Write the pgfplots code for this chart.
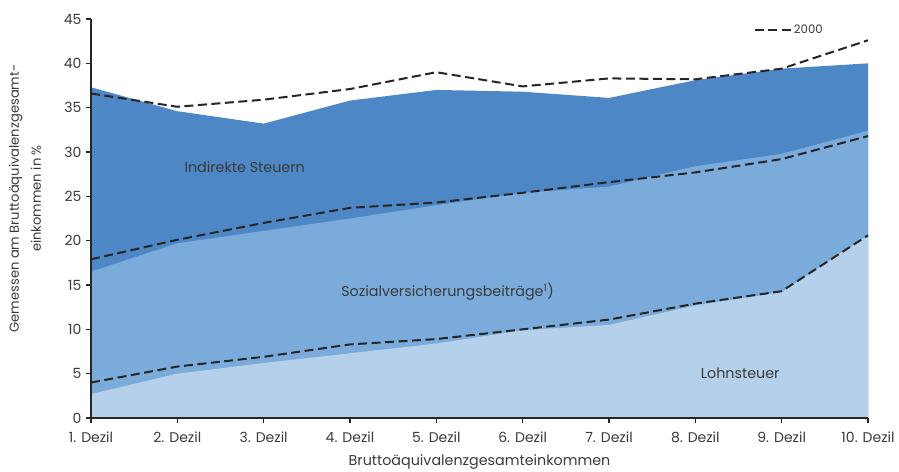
\documentclass[border=0pt]{standalone}
\usepackage{fontspec}
\setmainfont{Poppins}
\usepackage{pgfplots}
\pgfplotsset{compat=1.18}

\definecolor{lohn}{HTML}{B5D0EB}
\definecolor{sozial}{HTML}{7AABDB}
\definecolor{indir}{HTML}{4D87C6}
\definecolor{txt}{HTML}{3A3A3A}

\begin{document}
\begin{tikzpicture}
\begin{axis}[
    scale only axis,
    width=777pt, height=399pt,
    xmin=1, xmax=10, ymin=0, ymax=45,
    axis lines*=left,
    axis line style={line width=1.8pt, color=black!85},
    axis on top,
    xtick={1,...,10},
    xticklabels={1. Dezil,2. Dezil,3. Dezil,4. Dezil,5. Dezil,6. Dezil,7. Dezil,8. Dezil,9. Dezil,10. Dezil},
    ytick={0,5,...,45},
    tick align=outside,
    major tick length=5pt,
    tick style={line width=1.6pt, black!85},
    ticklabel style={font=\fontsize{14}{16}\selectfont, text=txt},
    /pgf/number format/assume math mode=true,
    xticklabel style={yshift=-5pt},
    yticklabel style={xshift=-1pt},
    xlabel={Bruttoäquivalenzgesamteinkommen},
    xlabel style={font=\fontsize{14.3}{16}\selectfont, text=txt,
        at={(axis description cs:0.5,0)}, anchor=center, yshift=-44pt},
    ylabel={Gemessen am Bruttoäquivalenzgesamt-\\einkommen in \%},
    ylabel style={font=\fontsize{13.1}{22}\selectfont, text=txt, align=center,
        at={(axis description cs:0,0.55)}, anchor=center, yshift=66pt},
    legend style={draw=none, fill=none, inner sep=0pt, at={(0.853,0.972)}, anchor=west,
        font=\fontsize{11.7}{13}\selectfont, text=txt},
    legend image code/.code={\draw[#1] (0pt,0pt) -- (36pt,0pt);},
    legend cell align=left,
    clip=false,
]
% Indirekte Steuern (Summe)
\addplot[draw=none, fill=indir, forget plot] coordinates {
    (1,37.3) (2,34.6) (3,33.2) (4,35.8) (5,37.0) (6,36.8) (7,36.1) (8,38.1) (9,39.4) (10,40.0)
} \closedcycle;
% Sozialversicherungsbeitraege (kumuliert)
\addplot[draw=none, fill=sozial, forget plot] coordinates {
    (1,16.5) (2,19.7) (3,21.1) (4,22.5) (5,24.0) (6,25.4) (7,26.1) (8,28.4) (9,29.8) (10,32.4)
} \closedcycle;
% Lohnsteuer
\addplot[draw=none, fill=lohn, forget plot] coordinates {
    (1,2.7) (2,5.0) (3,6.2) (4,7.3) (5,8.4) (6,9.9) (7,10.5) (8,12.7) (9,14.2) (10,20.6)
} \closedcycle;

% 2000
\addplot[black!85, line width=2pt, dash pattern=on 9pt off 4.5pt] coordinates {
    (1,36.6) (2,35.1) (3,35.9) (4,37.1) (5,39.0) (6,37.4) (7,38.3) (8,38.2) (9,39.4) (10,42.6)
};
\addlegendentry{2000}
\addplot[black!85, line width=2pt, dash pattern=on 9pt off 4.5pt, forget plot] coordinates {
    (1,17.9) (2,20.1) (3,22.0) (4,23.7) (5,24.3) (6,25.4) (7,26.6) (8,27.7) (9,29.2) (10,31.8)
};
\addplot[black!85, line width=2pt, dash pattern=on 9pt off 4.5pt, forget plot] coordinates {
    (1,4.0) (2,5.8) (3,6.9) (4,8.3) (5,8.9) (6,10.0) (7,11.1) (8,12.9) (9,14.3) (10,20.6)
};

\node[font=\fontsize{14.3}{16}\selectfont, text=txt] at (axis cs:2.78,28.3) {Indirekte Steuern};
\node[font=\fontsize{14.3}{16}\selectfont, text=txt] at (axis cs:5.13,14.2) {Sozialversicherungsbeiträge\textsuperscript{1})};
\node[font=\fontsize{14.3}{16}\selectfont, text=txt] at (axis cs:8.52,5.0) {Lohnsteuer};
\end{axis}
\pgfresetboundingbox
\path (-91pt,-53pt) rectangle (808pt,418pt);
\end{tikzpicture}
\end{document}
